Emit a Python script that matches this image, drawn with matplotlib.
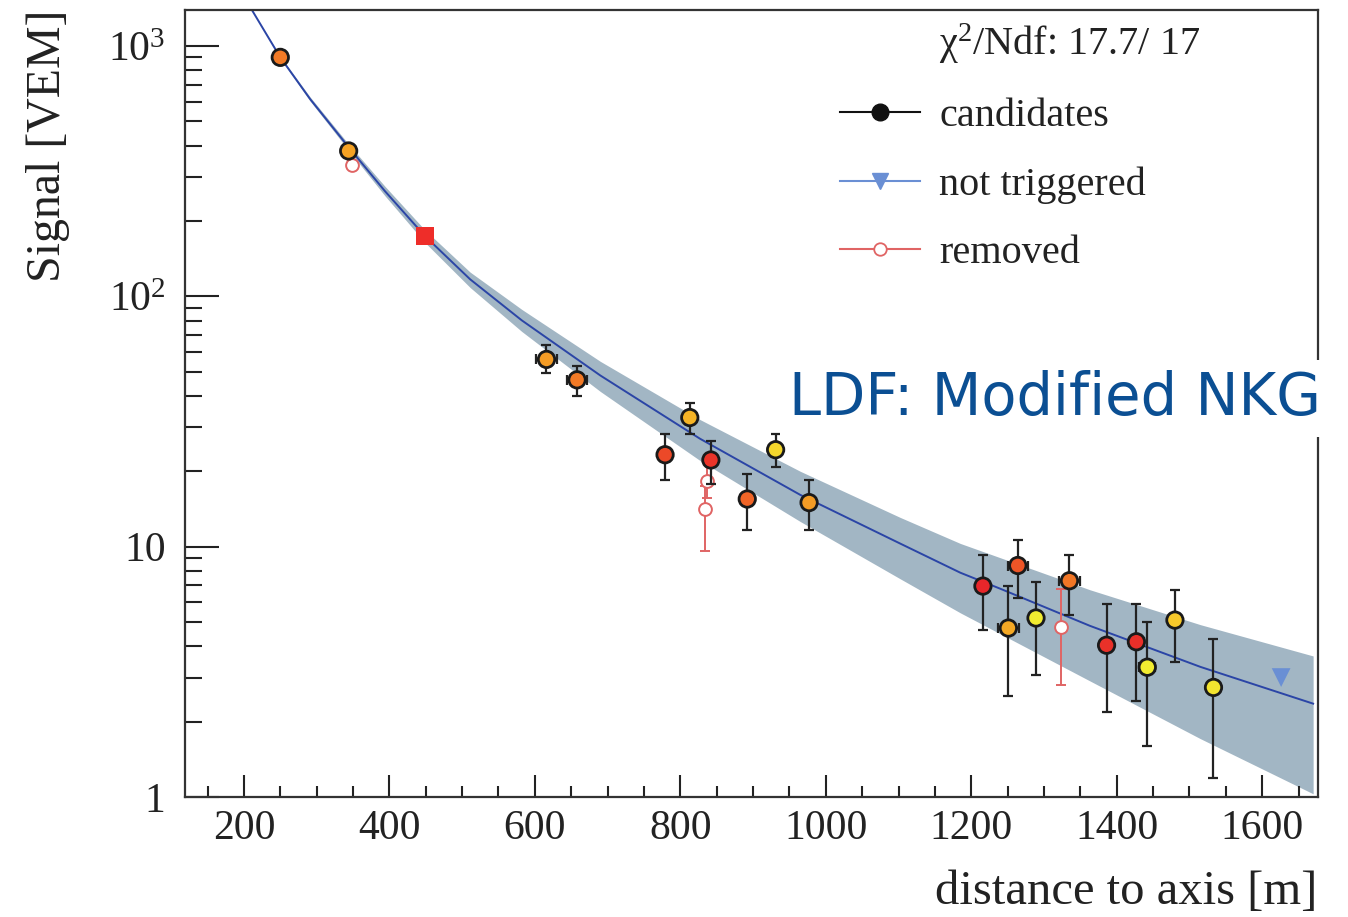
import matplotlib
matplotlib.use("Agg")
import matplotlib.pyplot as plt
from matplotlib.lines import Line2D
from matplotlib.colors import LinearSegmentedColormap
import numpy as np

# ---------------- data ----------------
# candidate stations
cand_r = [250, 344, 616, 658, 779, 813, 842, 892, 931, 977,
          1216, 1251, 1264, 1289, 1335, 1386, 1427, 1442, 1480, 1533]
cand_s = [901, 381, 56.0, 46.4, 23.3, 32.8, 22.2, 15.5, 24.4, 15.0,
          6.96, 4.73, 8.41, 5.19, 7.31, 4.04, 4.17, 3.30, 5.09, 2.74]
cand_lo = [870, 368, 49.5, 40.1, 18.5, 28.2, 17.8, 11.7, 20.8, 11.7,
           4.64, 2.53, 6.23, 3.07, 5.35, 2.18, 2.42, 1.60, 3.45, 1.19]
cand_hi = [932, 394, 63.7, 52.6, 28.2, 37.4, 26.4, 19.5, 28.2, 18.5,
           9.26, 6.94, 10.6, 7.24, 9.29, 5.88, 5.91, 5.01, 6.73, 4.29]
cand_rerr = [0, 0, 14, 14, 0, 0, 0, 0, 0, 0,
             0, 14, 14, 0, 14, 0, 10, 11, 0, 0]
# relative start time (0 = early/red, 1 = late/yellow)
cand_t = [0.38, 0.58, 0.55, 0.38, 0.15, 0.68, 0.06, 0.28, 0.88, 0.55,
          0.0, 0.62, 0.2, 1.0, 0.36, 0.05, 0.04, 1.0, 0.8, 0.95]

# saturated station
sat_r = [449]
sat_s = [174]

# removed stations
rem_r = [349, 837, 834, 1324]
rem_s = [336, 18.3, 14.1, 4.79]
rem_lo = [326, 15.6, 9.64, 2.80]
rem_hi = [346, 22.7, 17.4, 6.77]

# not triggered
nt_r = [1626]
nt_s = [3.0]

# LDF fit and its uncertainty band
fit_r = [211, 250, 291, 345, 394, 449, 511, 582, 690, 827, 965, 1102,
         1185, 1240, 1363, 1515, 1670]
fit_s = [1393, 901, 614, 391, 263, 174, 117, 80.2, 48.3, 27.0, 16.1, 10.3,
         7.87, 6.79, 4.83, 3.31, 2.36]
band_r = [211, 250, 291, 345, 394, 449, 511, 582, 690, 827, 965, 1102, 1185,
          1363, 1515, 1670]
band_lo = [1393, 893, 603, 380, 252, 164, 108.5, 72.4, 41.7, 22.1, 12.6, 7.45,
           5.44, 2.91, 1.71, 1.03]
band_hi = [1393, 910, 626, 402, 275, 184, 125, 88.7, 55.0, 32.2, 20.0, 13.1,
           10.3, 6.73, 4.88, 3.66]

x_ticks = [200, 400, 600, 800, 1000, 1200, 1400, 1600]
y_ticks = [1, 10, 100, 1000]
y_ticklabels = ["1", "10", "$10^{2}$", "$10^{3}$"]

chi2_text = "\u03c7$^{2}$/Ndf: 17.7/ 17"
legend_labels = ["candidates", "not triggered", "removed"]
ldf_text = "LDF: Modified NKG"

# ---------------- style ----------------
plt.rcParams["font.family"] = ["Liberation Serif", "DejaVu Serif"]
plt.rcParams["mathtext.fontset"] = "custom"
plt.rcParams["mathtext.rm"] = "Liberation Serif"
plt.rcParams["mathtext.it"] = "Liberation Serif:italic"
plt.rcParams["mathtext.bf"] = "Liberation Serif:bold"

fig = plt.figure(figsize=(13.48, 9.17), dpi=100)
ax = fig.add_axes([185 / 1348, 1 - 797 / 917, 1132.5 / 1348, 787 / 917])
ax.set_yscale("log")
ax.set_xlim(119, 1676)
ax.set_ylim(1, 1393)

spine_col = "#333333"
for s in ax.spines.values():
    s.set_linewidth(1.6)
    s.set_color(spine_col)

# band + fit
ax.fill_between(band_r, band_lo, band_hi, color="#a2b6c4", lw=0, zorder=1)
ax.plot(fit_r, fit_s, color="#2b45a6", lw=1.4, zorder=2)

# candidates
cmap = LinearSegmentedColormap.from_list(
    "tcol", [(0.0, "#e8262a"), (0.2, "#ee5527"), (0.4, "#f27e26"),
             (0.6, "#f5a624"), (0.8, "#f7c92a"), (1.0, "#f2ec30")])
cs = np.array(cand_s)
yerr = [cs - np.array(cand_lo), np.array(cand_hi) - cs]
ax.errorbar(cand_r, cand_s, yerr=yerr, xerr=cand_rerr, fmt="none",
            ecolor="#222222", elinewidth=1.6, capsize=3.6, capthick=1.6,
            zorder=4)
ax.scatter(cand_r, cand_s, c=[cmap(t) for t in cand_t], s=11.8 ** 2,
           edgecolors="#1a1a1a", linewidths=2.0, zorder=5)

# saturated
ax.scatter(sat_r, sat_s, marker="s", s=12.5 ** 2, color="#ee2d29",
           edgecolors="none", zorder=5)

# removed
rs = np.array(rem_s)
ax.errorbar(rem_r, rem_s, yerr=[rs - np.array(rem_lo), np.array(rem_hi) - rs],
            fmt="o", ms=9.2, mfc="white", mec="#e06464", mew=1.4,
            ecolor="#e06464", elinewidth=1.4, capsize=3.4, capthick=1.4,
            zorder=3)

# not triggered
ax.scatter(nt_r, nt_s, marker="v", s=13.5 ** 2, color="#6a8fd4",
           edgecolors="none", zorder=5)

# ticks
ax.set_xticks(x_ticks)
ax.set_xticklabels([str(v) for v in x_ticks])
ax.set_xticks(np.arange(150, 1676, 50), minor=True)
ax.set_yticks(y_ticks)
ax.set_yticklabels(y_ticklabels)
ax.tick_params(axis="both", which="both", direction="in", colors="#222222",
               labelsize=30, width=1.5, top=False, right=False)
ax.tick_params(axis="x", which="major", length=16, pad=9)
ax.tick_params(axis="x", which="minor", length=8)
ax.tick_params(axis="y", which="major", length=24.5, pad=14)
ax.tick_params(axis="y", which="minor", length=12.2)

# axis labels
ax.text(1.0, -0.121, "distance to axis [m]", transform=ax.transAxes,
        ha="right", va="center", fontsize=35, color="#222222")
ax.text(-0.121, 1.0, "Signal [VEM]", transform=ax.transAxes, rotation=90,
        ha="center", va="top", fontsize=34.5, color="#222222")

# legend
handles = [
    Line2D([], [], linestyle="none", marker=None),
    Line2D([], [], color="#111111", lw=1.5, marker="o", ms=12, mfc="#111111",
           mec="#111111"),
    Line2D([], [], color="#6a8fd4", lw=1.5, marker="v", ms=12, mfc="#6a8fd4",
           mec="#6a8fd4"),
    Line2D([], [], color="#e06464", lw=1.5, marker="o", ms=9, mfc="white",
           mec="#e06464", mew=1.3),
]
leg = ax.legend(handles, [chi2_text] + legend_labels, loc="upper left",
                bbox_to_anchor=(0.578, 0.985), frameon=False, fontsize=29,
                handlelength=2.0, handletextpad=0.47, labelspacing=0.78,
                borderpad=0, borderaxespad=0)
for t in leg.get_texts():
    t.set_color("#222222")

# LDF label
ax.text(1.0035, 0.506, ldf_text, transform=ax.transAxes, ha="right",
        va="center", fontsize=41.5, color="#0b4f93", family="DejaVu Sans",
        zorder=10, clip_on=False,
        bbox=dict(facecolor="white", edgecolor="none", pad=7))

fig.savefig("out.png", dpi=100)
